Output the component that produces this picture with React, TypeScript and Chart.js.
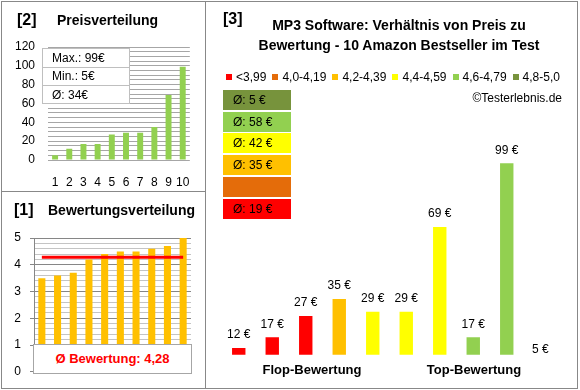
import React, { useEffect, useRef } from 'react';
import { Chart, registerables } from 'chart.js';

Chart.register(...registerables);

const FONT = '"Liberation Sans", Arial, sans-serif';

// ---------- Panel [2]: Preisverteilung ----------
const priceRanks = ['1', '2', '3', '4', '5', '6', '7', '8', '9', '10'];
const pricesSorted = [5, 12, 17, 17, 27, 29, 29, 35, 69, 99];

// ---------- Panel [1]: Bewertungsverteilung ----------
const ratingRanks = ['1', '2', '3', '4', '5', '6', '7', '8', '9', '10'];
const ratingsSorted = [3.5, 3.6, 3.7, 4.2, 4.4, 4.5, 4.5, 4.6, 4.7, 5.0];
const ratingAvg = 4.28;

// ---------- Panel [3]: Preis zu Bewertung ----------
const productSlots = ['1', '2', '3', '4', '5', '6', '7', '8', '9', '10'];
const productPrices = [12, 17, 27, 35, 29, 29, 69, 17, 99, 5];
const productClass = [0, 0, 0, 2, 3, 3, 3, 4, 4, 5];
const classLabels = ['<3,99', '4,0-4,19', '4,2-4,39', '4,4-4,59', '4,6-4,79', '4,8-5,0'];
const classColors = ['#ff0000', '#e46c0a', '#ffc000', '#ffff00', '#92d050', '#77933c'];
const groupLabels = ['Flop-Bewertung', 'Top-Bewertung'];
const mainTitle = ['MP3 Software: Verhältnis von Preis zu', 'Bewertung - 10 Amazon Bestseller im Test'];

const fmtDE = (v: number) => v.toFixed(2).replace('.', ',');

function ChartCanvas({ left, top, width, height, make }: any) {
  const ref = useRef<HTMLCanvasElement>(null);
  useEffect(() => {
    const chart = new Chart(ref.current as HTMLCanvasElement, make());
    return () => chart.destroy();
  }, []);
  return (
    <canvas
      ref={ref}
      width={width}
      height={height}
      style={{ position: 'absolute', left, top, width, height }}
    />
  );
}

const tickFont = { family: FONT, size: 12 };

function makePriceChart(): any {
  return {
    type: 'bar',
    data: {
      labels: priceRanks,
      datasets: [
        {
          data: pricesSorted,
          backgroundColor: '#92d050',
          categoryPercentage: 1,
          barPercentage: 0.42,
        },
      ],
    },
    options: {
      responsive: false,
      animation: false,
      layout: { padding: { top: 47, right: 12, bottom: 0, left: 0 } },
      plugins: { legend: { display: false }, tooltip: { enabled: false } },
      scales: {
        x: {
          grid: { display: false, drawTicks: false },
          border: { display: false },
          ticks: {
            font: tickFont,
            color: '#000',
            padding: 15,
            autoSkip: false,
            maxRotation: 0,
            minRotation: 0,
          },
          afterFit: (s: any) => {
            s.height = 31;
          },
        },
        y: {
          min: 0,
          max: 120,
          grid: { color: '#a6a6a6', drawTicks: false },
          border: { display: false },
          ticks: {
            stepSize: 5,
            autoSkip: false,
            padding: 13,
            font: tickFont,
            color: '#000',
            callback: (v: any) => (Number(v) % 20 === 0 ? String(v) : ''),
          },
          afterFit: (s: any) => {
            s.width = 48;
          },
        },
      },
    },
  };
}

const isInt = (v: number) => Math.abs(v - Math.round(v)) < 1e-6;

function makeRatingChart(): any {
  return {
    type: 'bar',
    data: {
      labels: ratingRanks,
      datasets: [
        {
          type: 'line',
          data: ratingsSorted.map(() => ratingAvg),
          borderColor: '#ff0000',
          borderWidth: 3,
          pointRadius: 0,
          order: 0,
        },
        {
          data: ratingsSorted,
          backgroundColor: '#ffc000',
          categoryPercentage: 1,
          barPercentage: 0.45,
          order: 1,
        },
      ],
    },
    options: {
      responsive: false,
      animation: false,
      layout: { padding: { top: 47, right: 14, bottom: 16, left: 0 } },
      plugins: { legend: { display: false }, tooltip: { enabled: false } },
      scales: {
        x: { display: false },
        y: {
          min: 0,
          max: 5,
          grid: {
            color: (c: any) => (c.tick && isInt(c.tick.value) ? '#868686' : '#c4c4c4'),
            tickColor: (c: any) => (c.tick && isInt(c.tick.value) ? '#868686' : 'rgba(0,0,0,0)'),
            drawTicks: true,
            tickLength: 4,
          },
          border: { display: true, color: '#868686' },
          ticks: {
            stepSize: 0.2,
            autoSkip: false,
            padding: 9,
            font: tickFont,
            color: '#000',
            callback: (v: any) => (isInt(Number(v)) ? String(Math.round(Number(v))) : ''),
          },
          afterFit: (s: any) => {
            s.width = 34;
          },
        },
      },
    },
  };
}

const priceLabelPlugin = {
  id: 'priceLabels',
  afterDatasetsDraw(chart: any) {
    const ctx = chart.ctx;
    const meta = chart.getDatasetMeta(0);
    ctx.save();
    ctx.font = `12px ${FONT}`;
    ctx.fillStyle = '#000';
    ctx.textAlign = 'center';
    ctx.textBaseline = 'middle';
    meta.data.forEach((bar: any, i: number) => {
      ctx.fillText(`${productPrices[i]} €`, bar.x, bar.y - 13);
    });
    ctx.restore();
  },
};

function makeProductChart(): any {
  return {
    type: 'bar',
    data: {
      labels: productSlots,
      datasets: [
        {
          data: productPrices,
          backgroundColor: productClass.map((c) => classColors[c]),
          categoryPercentage: 1,
          barPercentage: 0.4,
        },
      ],
    },
    plugins: [priceLabelPlugin],
    options: {
      responsive: false,
      animation: false,
      layout: { padding: { top: 54, right: 21, bottom: 33.3, left: 16 } },
      plugins: { legend: { display: false }, tooltip: { enabled: false } },
      scales: {
        x: { display: false },
        y: { display: false, min: 8.8, max: 150 },
      },
    },
  };
}

const abs = (left: number, top: number, extra: any = {}): any => ({
  position: 'absolute',
  left,
  top,
  whiteSpace: 'nowrap',
  ...extra,
});

export default function App() {
  const maxP = Math.max(...pricesSorted);
  const minP = Math.min(...pricesSorted);
  const avgP = Math.round(pricesSorted.reduce((a, b) => a + b, 0) / pricesSorted.length);

  const classAvgs = classLabels.map((_, c) => {
    const vals = productPrices.filter((_, i) => productClass[i] === c);
    return vals.length ? Math.round(vals.reduce((a, b) => a + b, 0) / vals.length) : null;
  });
  const boxOrder = [5, 4, 3, 2, 1, 0];

  const border = '#888888';

  return (
    <div
      style={{
        position: 'fixed',
        left: 0,
        top: 0,
        width: 580,
        height: 390,
        background: '#fff',
        fontFamily: FONT,
        color: '#000',
        overflow: 'hidden',
      }}
    >
      <ChartCanvas left={0} top={0} width={205} height={191} make={makePriceChart} />
      <ChartCanvas left={0} top={191} width={205} height={197} make={makeRatingChart} />
      <ChartCanvas left={206} top={1} width={372} height={387} make={makeProductChart} />

      {/* frames */}
      <div style={abs(1, 1, { width: 577, height: 388, border: `1px solid ${border}`, boxSizing: 'border-box' })} />
      <div style={abs(205, 1, { width: 1, height: 388, background: border })} />
      <div style={abs(1, 191, { width: 205, height: 1, background: border })} />

      {/* Panel 2 texts */}
      <div style={abs(17, 10, { fontSize: 16, fontWeight: 'bold', lineHeight: '20px' })}>[2]</div>
      <div style={abs(57, 10, { fontSize: 14, fontWeight: 'bold', lineHeight: '20px' })}>Preisverteilung</div>
      <div
        style={abs(42, 48, {
          width: 88,
          height: 56,
          background: '#fff',
          border: '1px solid #bfbfbf',
          boxSizing: 'border-box',
          fontSize: 12,
        })}
      >
        {[`Max.: ${maxP}€`, `Min.: ${minP}€`, `Ø: ${avgP}€`].map((t, i) => (
          <div
            key={i}
            style={{
              height: i === 1 ? 17 : 18,
              lineHeight: i === 1 ? '17px' : '18px',
              paddingLeft: 9,
              borderTop: i ? '1px solid #bfbfbf' : 'none',
            }}
          >
            {t}
          </div>
        ))}
      </div>

      {/* Panel 1 texts */}
      <div style={abs(14, 200, { fontSize: 16, fontWeight: 'bold', lineHeight: '20px' })}>[1]</div>
      <div style={abs(48, 200, { fontSize: 14, fontWeight: 'bold', lineHeight: '20px' })}>Bewertungsverteilung</div>
      <div
        style={abs(33, 344, {
          width: 159,
          height: 30,
          background: '#fff',
          border: '1px solid #a6a6a6',
          boxSizing: 'border-box',
          textAlign: 'center',
          lineHeight: '28px',
          fontSize: 13,
          fontWeight: 'bold',
          color: '#ff0000',
        })}
      >
        Ø Bewertung: {fmtDE(ratingAvg)}
      </div>

      {/* Panel 3 texts */}
      <div style={abs(223, 9, { fontSize: 16, fontWeight: 'bold', lineHeight: '20px' })}>[3]</div>
      <div style={abs(199, 15, { width: 400, textAlign: 'center', fontSize: 14, fontWeight: 'bold', lineHeight: '20px' })}>
        {mainTitle.map((t, i) => (
          <div key={i}>{t}</div>
        ))}
      </div>
      <div style={abs(226, 70, { height: 14, display: 'flex', alignItems: 'center', fontSize: 12 })}>
        {classLabels.map((l, i) => (
          <React.Fragment key={i}>
            <span style={{ display: 'inline-block', width: 6, height: 6, background: classColors[i], marginRight: 4 }} />
            <span style={{ marginRight: 6, lineHeight: '14px' }}>{l}</span>
          </React.Fragment>
        ))}
      </div>
      <div style={abs(400, 90, { width: 162, textAlign: 'right', fontSize: 12, lineHeight: '16px' })}>©Testerlebnis.de</div>

      {boxOrder.map((c, i) => (
        <div
          key={c}
          style={abs(223, 90 + i * 21.7, {
            width: 68,
            height: 20,
            background: classColors[c],
            fontSize: 12,
            lineHeight: '20px',
            paddingLeft: 10,
            boxSizing: 'border-box',
          })}
        >
          {classAvgs[c] !== null ? `Ø: ${classAvgs[c]} €` : ''}
        </div>
      ))}

      <div style={abs(252, 362, { width: 120, textAlign: 'center', fontSize: 13, fontWeight: 'bold', lineHeight: '16px' })}>
        {groupLabels[0]}
      </div>
      <div style={abs(414, 362, { width: 120, textAlign: 'center', fontSize: 13, fontWeight: 'bold', lineHeight: '16px' })}>
        {groupLabels[1]}
      </div>
    </div>
  );
}
